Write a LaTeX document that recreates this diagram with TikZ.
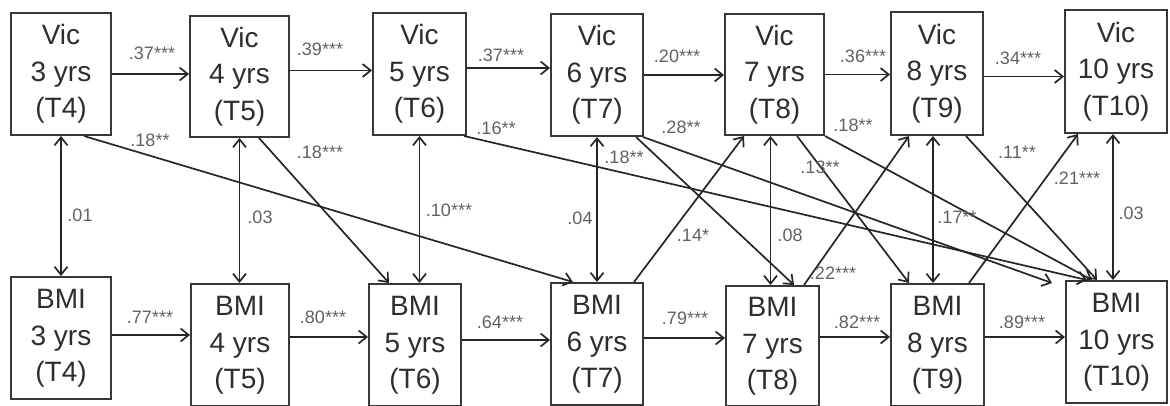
\documentclass[tikz,border=0pt]{standalone}
\usepackage{fontspec}
\setmainfont{Liberation Sans}
\usetikzlibrary{arrows.meta,calc}
\newcommand\boxtxt[3]{\raisebox{-5.5pt}{\begin{tabular}{@{}c@{}}#1\\#2\\#3\end{tabular}}}
\begin{document}
\begin{tikzpicture}[x=1pt,y=-1pt,
  box/.style={draw=black!78, line width=2pt, inner sep=0pt, text=black!82,
    font=\fontsize{28}{36.5}\selectfont},
  lab/.style={text=black!62, font=\fontsize{18}{20}\selectfont, inner sep=0pt},
  tip/.style={-{Straight Barb[length=8pt,width=13pt,line width=1.7pt]}},
  arr/.style={draw=black!85, line width=1.7pt, tip},
  dbl/.style={draw=black!85, line width=1.7pt,
    {Straight Barb[length=8pt,width=13pt,line width=1.7pt]}-{Straight Barb[length=8pt,width=13pt,line width=1.7pt]}}]
\useasboundingbox (0,0) rectangle (1170,405);
% Vic row
\node[box, minimum width=100pt, minimum height=122pt] (v3) at (61,74) {\boxtxt{Vic}{3 yrs}{(T4)}};
\node[box, minimum width=99pt, minimum height=121pt] (v4) at (239.5,76.5) {\boxtxt{Vic}{4 yrs}{(T5)}};
\node[box, minimum width=93pt, minimum height=122pt] (v5) at (419.5,74) {\boxtxt{Vic}{5 yrs}{(T6)}};
\node[box, minimum width=92pt, minimum height=122pt] (v6) at (597,75) {\boxtxt{Vic}{6 yrs}{(T7)}};
\node[box, minimum width=99pt, minimum height=121pt] (v7) at (774.5,74.5) {\boxtxt{Vic}{7 yrs}{(T8)}};
\node[box, minimum width=92pt, minimum height=123pt] (v8) at (937,73.5) {\boxtxt{Vic}{8 yrs}{(T9)}};
\node[box, minimum width=102pt, minimum height=123pt] (v10) at (1116,71.5) {\boxtxt{Vic}{10 yrs}{(T10)}};
% BMI row
\node[box, minimum width=100pt, minimum height=122pt] (b3) at (61,338) {\boxtxt{BMI}{3 yrs}{(T4)}};
\node[box, minimum width=98pt, minimum height=122pt] (b4) at (240,345) {\boxtxt{BMI}{4 yrs}{(T5)}};
\node[box, minimum width=92pt, minimum height=122pt] (b5) at (415,345) {\boxtxt{BMI}{5 yrs}{(T6)}};
\node[box, minimum width=92pt, minimum height=122pt] (b6) at (597,344) {\boxtxt{BMI}{6 yrs}{(T7)}};
\node[box, minimum width=93pt, minimum height=120pt] (b7) at (772.5,346) {\boxtxt{BMI}{7 yrs}{(T8)}};
\node[box, minimum width=93pt, minimum height=122pt] (b8) at (937.5,345) {\boxtxt{BMI}{8 yrs}{(T9)}};
\node[box, minimum width=101pt, minimum height=122pt] (b10) at (1116.5,342) {\boxtxt{BMI}{10 yrs}{(T10)}};
% autoregressive paths, Vic
\draw[arr] (v3.east) -- (v3.east -| v4.west);
\draw[arr] ([yshift=6pt]v4.east) -- ([yshift=6pt]v4.east -| v5.west);
\draw[arr] ([yshift=6pt]v5.east) -- ([yshift=6pt]v5.east -| v6.west);
\draw[arr] (v6.east) -- (v6.east -| v7.west);
\draw[arr] (v7.east) -- (v7.east -| v8.west);
\draw[arr] ([yshift=-3pt]v8.east) -- ([yshift=-3pt]v8.east -| v10.west);
% autoregressive paths, BMI
\draw[arr] ([yshift=3pt]b3.east) -- ([yshift=3pt]b3.east -| b4.west);
\draw[arr] ([yshift=8pt]b4.east) -- ([yshift=8pt]b4.east -| b5.west);
\draw[arr] ([yshift=5pt]b5.east) -- ([yshift=5pt]b5.east -| b6.west);
\draw[arr] ([yshift=6pt]b6.east) -- ([yshift=6pt]b6.east -| b7.west);
\draw[arr] ([yshift=9pt]b7.east) -- ([yshift=9pt]b7.east -| b8.west);
\draw[arr] ([yshift=8pt]b8.east) -- ([yshift=8pt]b8.east -| b10.west);
% correlations
\draw[dbl] (v3.south) -- (v3.south |- b3.north);
\draw[dbl] (v4.south) -- (v4.south |- b4.north);
\draw[dbl] (v5.south) -- (v5.south |- b5.north);
\draw[dbl] (v6.south) -- (v6.south |- b6.north);
\draw[dbl] ([xshift=-4pt]v7.south) -- ([xshift=-4pt]v7.south |- b7.north);
\draw[dbl] ([xshift=-4pt]v8.south) -- ([xshift=-4pt]v8.south |- b8.north);
\draw[dbl] ([xshift=-3pt]v10.south) -- ([xshift=-3pt]v10.south |- b10.north);
% cross-lagged paths
\coordinate (b10c) at ([xshift=-13pt,yshift=-3pt]b10.north west);
\draw[arr] ([xshift=74pt]v3.south west) -- ([xshift=23pt]b6.north west);
\draw[arr] ([xshift=70pt]v4.south west) -- ([xshift=21pt]b5.north west);
\draw[arr] ([xshift=-3pt]v5.south east) -- ([xshift=22pt]b10.north west);
\draw[arr] ([xshift=-1pt]v6.south east) -- (b10c);
\draw[arr] ([xshift=-8pt]v6.south east) -- ([xshift=69pt]b7.north west);
\draw[arr] ([xshift=73pt]v7.south west) -- ([xshift=19pt]b8.north west);
\draw[arr] (v7.south east) -- ([xshift=27pt]b10.north west);
\draw[arr] ([xshift=76pt]v8.south west) -- ([xshift=32pt]b10.north west);
\draw[arr] ([xshift=-10pt]b6.north east) -- ([xshift=20pt]v7.south west);
\draw[arr] ([xshift=-16pt]b7.north east) -- ([xshift=19pt]v8.south west);
\draw[arr] ([xshift=79pt]b8.north west) -- ([xshift=14pt]v10.south west);
% labels, top row
\node[lab] (t1) at (152,53) {.37***};
\node[lab] (t2) at (320,49) {.39***};
\node[lab] (t3) at (501,55) {.37***};
\node[lab] (t4) at (677,56) {.20***};
\node[lab] (t5) at (863,56) {.36***};
\node[lab] (t6) at (1018,58) {.34***};
% labels, bottom row
\node[lab] (u1) at (150,317) {.77***};
\node[lab] (u2) at (323,317) {.80***};
\node[lab] (u3) at (500,322) {.64***};
\node[lab] (u4) at (685,318) {.79***};
\node[lab] (u5) at (857,322) {.82***};
\node[lab] (u6) at (1022,322) {.89***};
% labels, correlations
\node[lab] (c1) at (80,215) {.01};
\node[lab] (c2) at (260,217) {.03};
\node[lab] (c3) at (449,210) {.10***};
\node[lab] (c4) at (580,218) {.04};
\node[lab] (c5) at (790,235) {.08};
\node[lab] (c6) at (957,217) {.17**};
\node[lab] (c7) at (1131,213) {.03};
% labels, cross-lagged
\node[lab] (x1) at (150,140) {.18**};
\node[lab] (x2) at (320,152) {.18***};
\node[lab] (x3) at (496,128) {.16**};
\node[lab] (x4) at (681,127) {.28**};
\node[lab] (x5) at (624,157) {.18**};
\node[lab] (x6) at (820,167) {.13**};
\node[lab] (x7) at (853,125) {.18**};
\node[lab] (x8) at (1017,152) {.11**};
\node[lab] (x9) at (693,235) {.14*};
\node[lab] (x10) at (833,273) {.22***};
\node[lab] (x11) at (1077,178) {.21***};
\end{tikzpicture}
\end{document}
